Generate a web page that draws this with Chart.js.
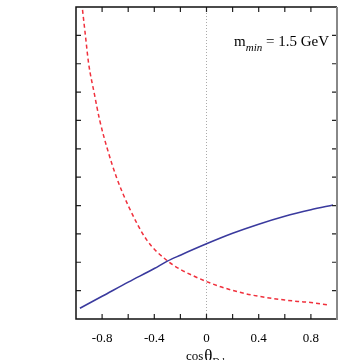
<!DOCTYPE html>
<html>
<head>
<meta charset="utf-8">
<script src="https://cdn.jsdelivr.net/npm/chart.js@4/dist/chart.umd.min.js"></script>
<style>
  html, body { margin: 0; padding: 0; background: #fff; }
  #wrap { width: 357px; height: 360px; }
</style>
</head>
<body>
<div id="wrap"><canvas id="c"></canvas></div>
<script>
// solid (blue) curve
const solidCos = [-0.97, -0.8, -0.6, -0.4, -0.3, -0.2, 0, 0.2, 0.4, 0.6, 0.8, 0.97];
const solidVals = [0.38, 0.80, 1.30, 1.78, 2.04, 2.25, 2.65, 3.02, 3.34, 3.62, 3.85, 4.02];

// dashed (red) curve
const dashedCos = [-0.95, -0.928, -0.903, -0.862, -0.818, -0.76, -0.69, -0.6, -0.46, -0.3, -0.2, -0.1, 0, 0.1, 0.2, 0.3, 0.4, 0.5, 0.6, 0.7, 0.8, 0.93];
const dashedVals = [10.9, 10.0, 9.0, 8.0, 7.0, 6.0, 5.0, 4.0, 2.8, 2.05, 1.75, 1.52, 1.32, 1.15, 1.01, 0.89, 0.8, 0.73, 0.67, 0.62, 0.58, 0.5];

// axis ticks
const xLabelTicks = [-0.8, -0.4, 0, 0.4, 0.8];
const xMinorTicks = [-0.8, -0.6, -0.4, -0.2, 0, 0.2, 0.4, 0.6, 0.8];
const yMinorTicks = [1, 2, 3, 4, 5, 6, 7, 8, 9, 10];

const serif = '"Liberation Serif", "DejaVu Serif", serif';

function toPoints(xs, ys) {
  return xs.map((x, i) => ({ x: x, y: ys[i] }));
}

// frame, inward ticks, zero line and labels
const framePlugin = {
  id: 'frame',
  beforeDatasetsDraw(chart) {
    const { ctx, chartArea: a, scales } = chart;
    const x0 = scales.x.getPixelForValue(0);
    ctx.save();
    ctx.strokeStyle = '#aaa';
    ctx.lineWidth = 1;
    ctx.setLineDash([1, 2]);
    ctx.beginPath();
    ctx.moveTo(x0, a.top);
    ctx.lineTo(x0, a.bottom);
    ctx.stroke();
    ctx.restore();
  },
  afterDraw(chart) {
    const { ctx, chartArea: a, scales } = chart;
    const len = 5;
    ctx.save();
    ctx.setLineDash([]);
    ctx.strokeStyle = '#222';
    ctx.lineWidth = 1.2;
    ctx.beginPath();
    xMinorTicks.forEach(v => {
      const px = scales.x.getPixelForValue(v);
      ctx.moveTo(px, a.bottom); ctx.lineTo(px, a.bottom - len);
      ctx.moveTo(px, a.top); ctx.lineTo(px, a.top + len);
    });
    yMinorTicks.forEach(v => {
      const py = scales.y.getPixelForValue(v);
      ctx.moveTo(a.left, py); ctx.lineTo(a.left + len, py);
      ctx.moveTo(a.right, py); ctx.lineTo(a.right - len, py);
    });
    ctx.stroke();

    // border
    ctx.lineWidth = 1.5;
    ctx.strokeStyle = '#111';
    ctx.beginPath();
    ctx.moveTo(a.right, a.top); ctx.lineTo(a.left, a.top);
    ctx.lineTo(a.left, a.bottom); ctx.lineTo(a.right, a.bottom);
    ctx.stroke();
    ctx.strokeStyle = '#888';
    ctx.lineWidth = 2;
    ctx.beginPath();
    ctx.moveTo(a.right, a.top); ctx.lineTo(a.right, a.bottom + 1);
    ctx.stroke();

    // axis title: cos θ_{D,l}
    ctx.fillStyle = '#000';
    ctx.textBaseline = 'alphabetic';
    ctx.textAlign = 'left';
    ctx.font = '13px ' + serif;
    let tx = 186;
    ctx.fillText('cos', tx, 360);
    tx += ctx.measureText('cos').width + 1;
    ctx.font = '17px ' + serif;
    ctx.fillText('θ', tx, 361);
    tx += ctx.measureText('θ').width;
    ctx.font = '10px ' + serif;
    ctx.fillText('D,l', tx, 365);

    // annotation: m_min = 1.5 GeV
    ctx.font = '15px ' + serif;
    const rest = ' = 1.5 GeV';
    const wRest = ctx.measureText(rest).width;
    ctx.font = '15px ' + serif;
    const wM = ctx.measureText('m').width;
    ctx.font = 'italic 11px ' + serif;
    const wSub = ctx.measureText('min').width;
    let ax = 329 - wRest - wSub - wM;
    ctx.font = '15px ' + serif;
    ctx.fillText('m', ax, 46);
    ax += wM;
    ctx.font = 'italic 11px ' + serif;
    ctx.fillText('min', ax, 51);
    ax += wSub;
    ctx.font = '15px ' + serif;
    ctx.fillText(rest, ax, 46);
    ctx.restore();
  }
};

new Chart(document.getElementById('c'), {
  type: 'scatter',
  data: {
    datasets: [
      {
        data: toPoints(solidCos, solidVals),
        showLine: true,
        borderColor: '#3a3a9e',
        borderWidth: 1.6,
        pointRadius: 0,
        cubicInterpolationMode: 'monotone'
      },
      {
        data: toPoints(dashedCos, dashedVals),
        showLine: true,
        borderColor: '#f0303c',
        borderWidth: 1.5,
        borderDash: [4, 3],
        pointRadius: 0,
        cubicInterpolationMode: 'monotone'
      }
    ]
  },
  options: {
    responsive: true,
    maintainAspectRatio: false,
    animation: false,
    layout: { padding: { top: 7, right: 20, left: 0, bottom: 0 } },
    plugins: {
      legend: { display: false },
      tooltip: { enabled: false }
    },
    scales: {
      x: {
        type: 'linear',
        min: -1,
        max: 1,
        grid: { display: false, drawTicks: false },
        border: { display: false },
        afterFit(scale) { scale.height = 41; },
        afterBuildTicks(scale) {
          scale.ticks = xLabelTicks.map(v => ({ value: v }));
        },
        ticks: {
          padding: 12,
          color: '#000',
          font: { family: serif, size: 13 },
          maxRotation: 0,
          autoSkip: false,
          callback: v => (v === 0 ? '0' : v.toFixed(1))
        }
      },
      y: {
        type: 'linear',
        min: 0,
        max: 11,
        grid: { display: false, drawTicks: false },
        border: { display: false },
        ticks: { display: false },
        afterFit(scale) { scale.width = 76; }
      }
    }
  },
  plugins: [framePlugin]
});
</script>
</body>
</html>
